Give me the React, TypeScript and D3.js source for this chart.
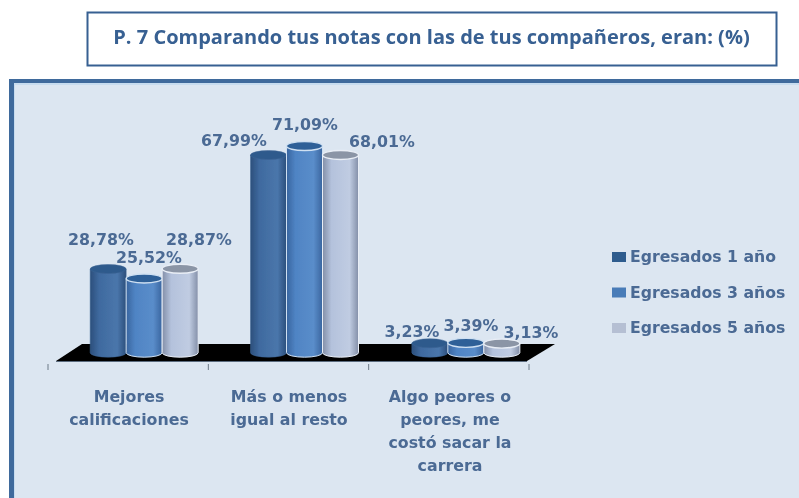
import React from "react";
import * as d3 from "d3";

const categories = [
  ["Mejores", "calificaciones"],
  ["Más o menos", "igual al resto"],
  ["Algo peores o", "peores, me", "costó sacar la", "carrera"],
];
const seriesNames = ["Egresados 1 año", "Egresados 3 años", "Egresados 5 años"];
const egresados1 = [28.78, 67.99, 3.23];
const egresados3 = [25.52, 71.09, 3.39];
const egresados5 = [28.87, 68.01, 3.13];
const seriesValues = [egresados1, egresados3, egresados5];
const valueLabels = [
  ["28,78%", "67,99%", "3,23%"],
  ["25,52%", "71,09%", "3,39%"],
  ["28,87%", "68,01%", "3,13%"],
];
const title = "P. 7 Comparando tus notas con las de tus compañeros, eran: (%)";
const palettes = [
  { edge: "#2c4f7c", mid: "#3f6a9f", light: "#4a76ab", top: "#2f5a8c", rim: "#3c6595" },
  { edge: "#39659f", mid: "#4f84c4", light: "#5a8dca", top: "#2f6198", rim: "#cfe0f2" },
  { edge: "#838fa8", mid: "#b4c2dc", light: "#c0cce2", top: "#8b95a6", rim: "#e9eef6" },
];
const legendColors = ["#2f5b8e", "#4a7cb8", "#b5bfd3"];
const labelPos = [
  [[101, 245], [234, 146], [412, 337]],
  [[149, 263], [305, 130], [471, 331]],
  [[199, 245], [382, 147], [531, 338]],
];

const W = 799, H = 498;
const textColor = "#4b6a94";
const y = d3.scaleLinear().domain([0, 100]).range([352.7, 62]);
const groupX = d3.scaleBand<number>().domain([0, 1, 2]).range([48, 529]);
const barX = d3.scaleBand<number>().domain([0, 1, 2]).range([-54, 54]);
const rx = 18, ry = 4.5;

export default function App() {
  return (
    <svg width={W} height={H} viewBox={`0 0 ${W} ${H}`} style={{ position: "absolute", left: 0, top: 0, display: "block", background: "#fff" }}>
      <defs>
        <filter id="soft" x="-5%" y="-20%" width="110%" height="140%"><feGaussianBlur stdDeviation="0.45" /></filter>
        <filter id="softer" x="-20%" y="-5%" width="140%" height="110%"><feGaussianBlur stdDeviation="0.6" /></filter>
        {palettes.map((p, i) => (
          <linearGradient key={i} id={`cyl${i}`} x1="0" x2="1" y1="0" y2="0">
            <stop offset="0" stopColor={p.edge} />
            <stop offset="0.25" stopColor={p.mid} />
            <stop offset="0.75" stopColor={p.light} />
            <stop offset="1" stopColor={p.edge} />
          </linearGradient>
        ))}
      </defs>

      {/* title box */}
      <rect x={87.5} y={12.5} width={689} height={53} fill="#fff" stroke="#376092" strokeWidth={2} />
      <text x={431.5} y={44} textAnchor="middle" fontFamily="'Open Sans'" fontWeight={700} fontSize={20} fill="#376092" filter="url(#soft)">{title}</text>

      {/* panel */}
      <rect x={9} y={79} width={W - 9} height={H - 79} fill="#3f6a9c" />
      <rect x={14} y={83} width={W - 14} height={H - 83} fill="#c7dcef" />
      <rect x={15} y={85} width={W - 15} height={H - 85} fill="#dce6f1" />

      {/* floor */}
      <path d={`M56,361 L82,344 L555,344 L527,361 Z`} fill="#000" />
      <line x1={56} x2={527} y1={361.5} y2={361.5} stroke="#5b6b7e" strokeWidth={1} />
      {[0, 1, 2, 3].map((i) => {
        const tx = i < 3 ? groupX(i)! : 529;
        return <line key={i} x1={tx} x2={tx} y1={364} y2={370} stroke="#6d7a88" strokeWidth={1} />;
      })}

      {/* cylinders */}
      <g filter="url(#softer)">
        {categories.map((_, c) => {
          const cx = groupX(c)! + groupX.bandwidth() / 2 + 16 + (c === 2 ? 1 : 0);
          return seriesValues.map((vals, s) => {
            const x0 = cx + barX(s)! + barX.bandwidth() / 2;
            const top = y(vals[c]);
            const base = y(0);
            const p = palettes[s];
            return (
              <g key={`${c}-${s}`}>
                <path d={`M${x0 - rx},${top} L${x0 - rx},${base} A${rx},${ry} 0 0 0 ${x0 + rx},${base} L${x0 + rx},${top} Z`}
                  fill={`url(#cyl${s})`} stroke={p.rim} strokeWidth={s === 0 ? 0.5 : 1} />
                <ellipse cx={x0} cy={top} rx={rx} ry={ry} fill={p.top} stroke={p.rim} strokeWidth={s === 0 ? 0.5 : 1.4} />
              </g>
            );
          });
        })}
      </g>

      {/* data labels */}
      <g fontFamily="'DejaVu Sans'" fontWeight={700} fontSize={15.8} fill={textColor} textAnchor="middle" filter="url(#soft)">
        {valueLabels.map((row, s) => row.map((t, c) => (
          <text key={`${s}-${c}`} x={labelPos[s][c][0]} y={labelPos[s][c][1]}>{t}</text>
        )))}
      </g>

      {/* category labels */}
      <g fontFamily="'DejaVu Sans'" fontWeight={700} fontSize={15.8} fill={textColor} textAnchor="middle" filter="url(#soft)">
        {categories.map((lines, c) => (
          <text key={c} x={[129, 289, 450][c]}>
            {lines.map((l, i) => (
              <tspan key={i} x={[129, 289, 450][c]} y={402 + i * 23}>{l}</tspan>
            ))}
          </text>
        ))}
      </g>

      {/* legend */}
      <g filter="url(#soft)">
        {seriesNames.map((n, i) => (
          <g key={n}>
            <rect x={612} y={252 + i * 35.5} width={14} height={10} fill={legendColors[i]} />
            <text x={630} y={262 + i * 35.5} fontFamily="'DejaVu Sans'" fontWeight={700} fontSize={15.7} fill={textColor}>{n}</text>
          </g>
        ))}
      </g>
    </svg>
  );
}
